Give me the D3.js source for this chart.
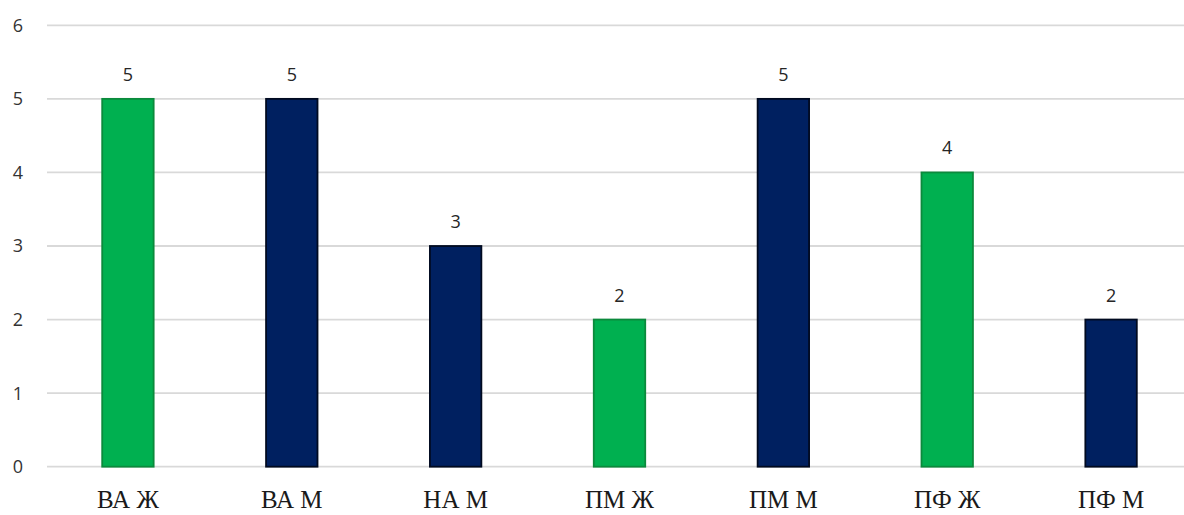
<!DOCTYPE html>
<html><head><meta charset="utf-8">
<script src="https://cdn.jsdelivr.net/npm/d3@7"></script>
<style>html,body{margin:0;padding:0;background:#fff;}svg{display:block;}</style>
</head><body>
<script>
const categories = ["ВА Ж","ВА М","НА М","ПМ Ж","ПМ М","ПФ Ж","ПФ М"];
const values = [5,5,3,2,5,4,2];
const seriesKind = ["Ж","М","М","Ж","М","Ж","М"];
const yTicks = [0,1,2,3,4,5,6];

const W = 1184, H = 515;
const fill = {"Ж":"#00b050","М":"#002060"};
const stroke = {"Ж":"#0b8a3c","М":"#000a20"};

const svg = d3.select("body").append("svg").attr("width",W).attr("height",H);
const x = d3.scaleBand().domain(categories).range([46,1193]).paddingInner(0.686).paddingOuter(0.343);
const y = d3.scaleLinear().domain([0,6]).range([466.7,25.3]);

svg.append("g").selectAll("line").data(yTicks).join("line")
  .attr("x1",47).attr("x2",W).attr("y1",d=>y(d)).attr("y2",d=>y(d))
  .attr("stroke","#d9d9d9").attr("stroke-width",1.8);

svg.append("g").selectAll("text").data(yTicks).join("text")
  .attr("x",18).attr("y",d=>y(d)).attr("dy","0.36em").attr("text-anchor","middle")
  .attr("font-family","'Open Sans', 'Liberation Sans', sans-serif").attr("font-size",18)
  .attr("fill","#333333").text(d=>d);

svg.append("g").selectAll("rect").data(values).join("rect")
  .attr("x",(d,i)=>x(categories[i])).attr("width",x.bandwidth())
  .attr("y",d=>y(d)).attr("height",d=>y(0)-y(d))
  .attr("fill",(d,i)=>fill[seriesKind[i]]).attr("stroke",(d,i)=>stroke[seriesKind[i]]).attr("stroke-width",1.8);

svg.append("g").selectAll("text").data(values).join("text")
  .attr("x",(d,i)=>x(categories[i])+x.bandwidth()/2).attr("y",d=>y(d)-18)
  .attr("text-anchor","middle")
  .attr("font-family","'Open Sans', 'Liberation Sans', sans-serif").attr("font-size",18)
  .attr("fill","#262626").text(d=>d);

svg.append("g").selectAll("text").data(categories).join("text")
  .attr("x",d=>x(d)+x.bandwidth()/2).attr("y",508)
  .attr("text-anchor","middle")
  .attr("font-family","'Liberation Serif', 'Times New Roman', serif").attr("font-size",25)
  .attr("fill","#1a1a1a").text(d=>d);
</script>
</body></html>
